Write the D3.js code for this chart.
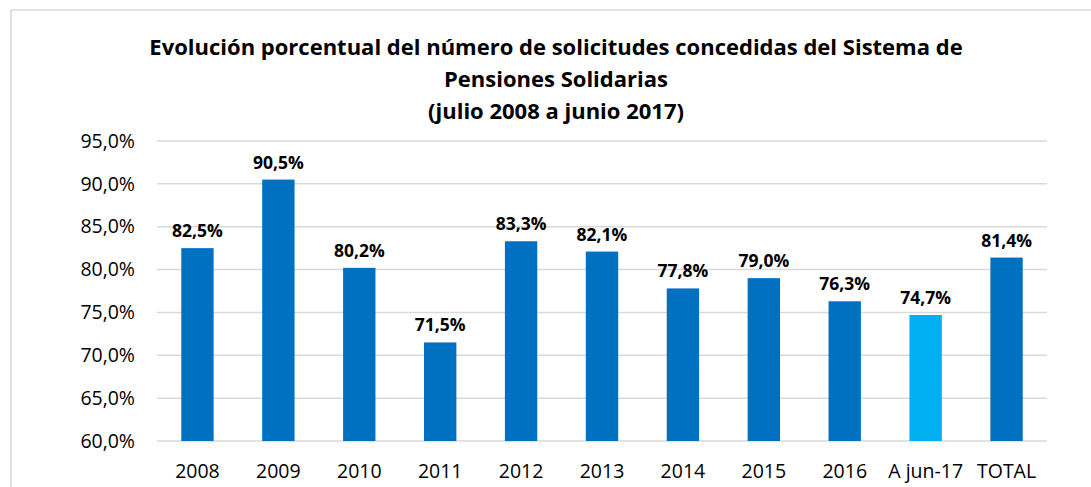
<!DOCTYPE html>
<meta charset="utf-8">
<head>
  <title>Solicitudes concedidas</title>
</head>
<style>
body { margin: 0; background: #fff; }
text { font-family: "Open Sans", Lato, sans-serif; fill: #000; }
.grid line { stroke: #d9d9d9; stroke-width: 1.5; }
.tick text { font-size: 19.5px; }
.lbl { font-size: 17.5px; font-weight: bold; text-anchor: middle; }
.title { font-size: 22px; font-weight: bold; text-anchor: middle; }
</style>
<body>
<svg width="1091" height="487"></svg>
<script src="https://cdnjs.cloudflare.com/ajax/libs/d3/7.8.5/d3.min.js"></script>
<script>
var categories = ['2008', '2009', '2010', '2011', '2012', '2013', '2014', '2015', '2016', 'A jun-17', 'TOTAL']
var values = [82.5, 90.5, 80.2, 71.5, 83.3, 82.1, 77.8, 79.0, 76.3, 74.7, 81.4]
var yTicks = [60, 65, 70, 75, 80, 85, 90, 95]
var titleLines = ['Evolución porcentual del número de solicitudes concedidas del Sistema de',
  'Pensiones Solidarias', '(julio 2008 a junio 2017)']

var svg = d3.select('svg')
var fmt = function(v) { return v.toFixed(1).replace('.', ',') + '%' }

// chart border
svg.append('rect').attr('x', 11).attr('y', 10).attr('width', 1100).attr('height', 500)
  .attr('fill', 'none').attr('stroke', '#d9d9d9').attr('stroke-width', 1.5)

var x = d3.scaleBand().domain(categories).range([157, 1047]).paddingInner(0.6).paddingOuter(0.3)
var y = d3.scaleLinear().domain([60, 95]).range([441, 141])

svg.append('g').attr('class', 'grid')
  .selectAll('line').data(yTicks).enter().append('line')
  .attr('x1', 157).attr('x2', 1047)
  .attr('y1', function(d) { return y(d) }).attr('y2', function(d) { return y(d) })

var yAxis = svg.append('g').attr('transform', 'translate(157,0)')
  .call(d3.axisLeft(y).tickValues(yTicks).tickFormat(fmt).tickSize(0).tickPadding(22))
yAxis.select('.domain').remove()

var xAxis = svg.append('g').attr('transform', 'translate(0,441)')
  .call(d3.axisBottom(x).tickSize(0).tickPadding(23))
xAxis.select('.domain').remove()

svg.append('g').selectAll('rect').data(values).enter().append('rect')
  .attr('x', function(d, i) { return x(categories[i]) })
  .attr('width', x.bandwidth())
  .attr('y', function(d) { return y(d) })
  .attr('height', function(d) { return y(60) - y(d) })
  .attr('fill', function(d, i) { return categories[i] == 'A jun-17' ? '#00b0f0' : '#0070c0' })

svg.append('g').selectAll('text').data(values).enter().append('text')
  .attr('class', 'lbl')
  .attr('x', function(d, i) { return x(categories[i]) + x.bandwidth() / 2 })
  .attr('y', function(d) { return y(d) - 11 })
  .text(fmt)

svg.append('g').selectAll('text').data(titleLines).enter().append('text')
  .attr('class', 'title')
  .attr('x', 556)
  .attr('y', function(d, i) { return 55 + i * 32 })
  .text(function(d) { return d })
</script>
</body>
</html>
